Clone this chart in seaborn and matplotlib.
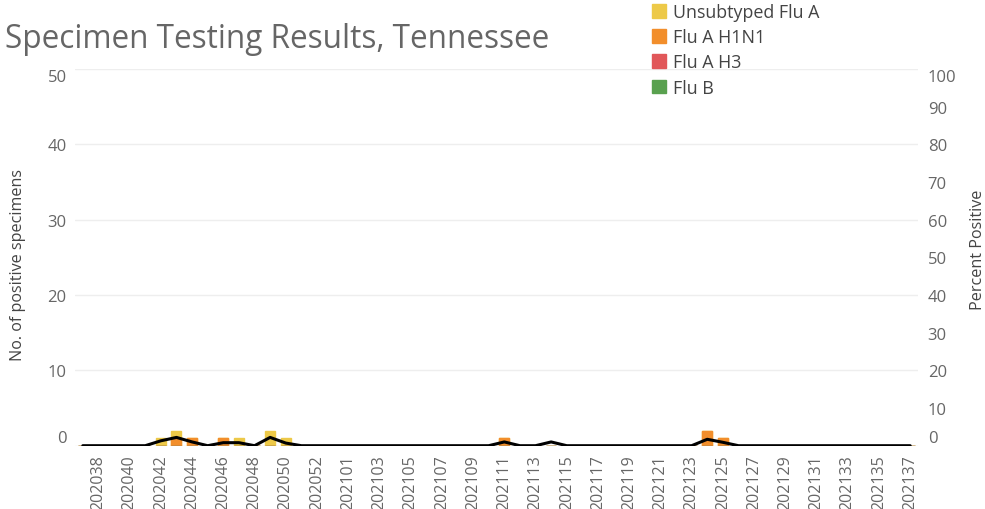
import matplotlib
matplotlib.use("Agg")
import matplotlib.pyplot as plt
import matplotlib.patches as mpatches
import seaborn as sns
import numpy as np
import pandas as pd

# Tableau-like palette used by the original
COLORS = {'unsub': '#EDC948', 'h1n1': '#F28E2B', 'h3': '#E15759', 'fluB': '#59A14F'}
TEXT = '#666666'

sns.set_theme(style="white")
plt.rcParams['font.family'] = ['Open Sans', 'DejaVu Sans']

# Data: MMWR weeks (year + week)
weeks = ['202037', '202038', '202039', '202040', '202041', '202042', '202043', '202044',
         '202045', '202046', '202047', '202048', '202049', '202050', '202051', '202052',
         '202053', '202101', '202102', '202103', '202104', '202105', '202106', '202107',
         '202108', '202109', '202110', '202111', '202112', '202113', '202114', '202115',
         '202116', '202117', '202118', '202119', '202120', '202121', '202122', '202123',
         '202124', '202125', '202126', '202127', '202128', '202129', '202130', '202131',
         '202132', '202133', '202134', '202135', '202136', '202137']

unsubtyped = [0, 0, 0, 0, 0, 1, 1, 0, 0, 0, 1, 0, 2, 1, 0, 0, 0, 0,
              0, 0, 0, 0, 0, 0, 0, 0, 0, 0, 0, 0, 0, 0, 0, 0, 0, 0,
              0, 0, 0, 0, 0, 0, 0, 0, 0, 0, 0, 0, 0, 0, 0, 0, 0, 0]
h1n1 = [0, 0, 0, 0, 0, 0, 1, 1, 0, 1, 0, 0, 0, 0, 0, 0, 0, 0,
        0, 0, 0, 0, 0, 0, 0, 0, 0, 1, 0, 0, 0, 0, 0, 0, 0, 0,
        0, 0, 0, 0, 2, 1, 0, 0, 0, 0, 0, 0, 0, 0, 0, 0, 0, 0]
h3 = [0] * 54
flu_b = [0] * 54

pct_positive = [0, 0, 0, 0, 0, 1.3, 2.2, 1.0, 0, 0.8, 0.8, 0, 2.2, 0.7, 0, 0, 0, 0,
                0, 0, 0, 0, 0, 0, 0, 0, 0, 1.0, 0, 0, 1.0, 0, 0, 0, 0, 0,
                0, 0, 0, 0, 1.7, 0.9, 0, 0, 0, 0, 0, 0, 0, 0, 0, 0, 0, 0]

df = pd.DataFrame({'week': weeks, 'unsub': unsubtyped, 'h1n1': h1n1,
                   'h3': h3, 'fluB': flu_b, 'pct': pct_positive})
# cumulative stacks (top of each layer)
df['top_unsub'] = df['unsub'] + df['h1n1'] + df['h3'] + df['fluB']
df['top_h1n1'] = df['h1n1'] + df['h3'] + df['fluB']
df['top_h3'] = df['h3'] + df['fluB']
df['top_fluB'] = df['fluB']

fig = plt.figure(figsize=(9.85, 5.10), dpi=100)
ax = fig.add_axes([75 / 985, 1 - 446.7 / 510, (918 - 75) / 985, (446.7 - 70) / 510])

# stacked bars by overplotting cumulative totals
layers = [('top_unsub', 'unsub'), ('top_h1n1', 'h1n1'), ('top_h3', 'h3'), ('top_fluB', 'fluB')]
for col, key in layers:
    sns.barplot(data=df, x='week', y=col, color=COLORS[key], width=0.64,
                saturation=1, edgecolor=COLORS[key], linewidth=1.0, ax=ax)

ax.set_ylim(0, 50)
ax.set_xlim(-0.5, len(weeks) - 0.5)
ax.set_yticks([0, 10, 20, 30, 40, 50])
ax.yaxis.grid(True, color='#eeeeee', linewidth=1)
ax.set_axisbelow(True)
ax.set_xticks(range(1, len(weeks), 2))
ax.set_xticklabels(weeks[1::2], rotation=90)
ax.set_xlabel('')
ax.set_ylabel('No. of positive specimens', fontsize=11.6, color='#444444',
              va='center', ha='center')
ax.yaxis.set_label_coords(-0.0676, 0.482)
ax.tick_params(axis='x', length=0, pad=6, labelsize=11.5, labelcolor=TEXT)
ax.tick_params(axis='y', length=0, pad=6, labelsize=12, labelcolor=TEXT)
for s in ax.spines.values():
    s.set_visible(False)

# percent positive line on secondary axis
ax2 = ax.twinx()
sns.lineplot(x=np.arange(len(weeks)), y=df['pct'], color='black', linewidth=2.2, ax=ax2)
ax2.set_ylim(0, 100)
ax2.set_yticks(range(0, 101, 10))
ax2.set_ylabel('Percent Positive', fontsize=11.6, color='#444444',
               va='center', ha='center')
ax2.yaxis.set_label_coords(1.071, 0.522)
ax2.tick_params(axis='y', length=0, pad=7, labelsize=12, labelcolor=TEXT)
for s in ax2.spines.values():
    s.set_visible(False)
ax2.grid(False)

fig.canvas.draw()
# edge labels sit inside the range like the original
for a in (ax, ax2):
    labels = a.get_yticklabels()
    labels[0].set_verticalalignment('bottom')
    labels[-1].set_verticalalignment('top')

fig.text(5 / 985, 1 - 40 / 510, 'Specimen Testing Results, Tennessee', fontsize=22.7,
         color=TEXT, va='center', ha='left')

handles = [mpatches.Patch(color=COLORS['unsub'], label='Unsubtyped Flu A'),
           mpatches.Patch(color=COLORS['h1n1'], label='Flu A H1N1'),
           mpatches.Patch(color=COLORS['h3'], label='Flu A H3'),
           mpatches.Patch(color=COLORS['fluB'], label='Flu B')]
fig.legend(handles=handles, loc='upper left', bbox_to_anchor=(652 / 985, 1 - 4 / 510),
           frameon=False, fontsize=12.9, handlelength=0.78, handleheight=0.78,
           handletextpad=0.4, labelspacing=0.4, borderaxespad=0, borderpad=0,
           labelcolor='#444444')

fig.savefig('out.png', dpi=100)
